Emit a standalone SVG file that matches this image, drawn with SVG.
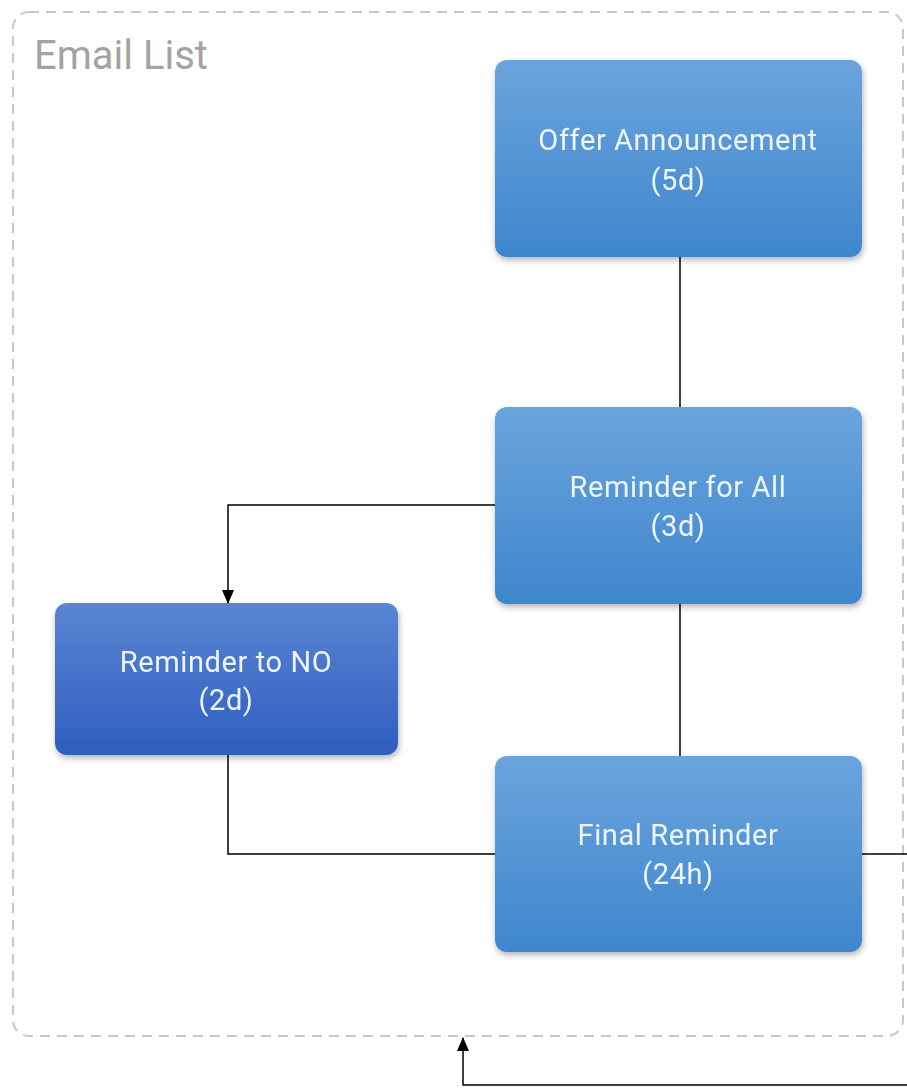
<svg xmlns="http://www.w3.org/2000/svg" width="907" height="1088" viewBox="0 0 907 1088">
<style>
.lbl{font-family:Roboto,"Liberation Sans",sans-serif;font-size:29px;letter-spacing:0.6px;fill:#eef5ff;text-anchor:middle}
.title{font-family:Roboto,"Liberation Sans",sans-serif;font-size:40px;fill:#a3a3a3}
.conn{fill:none;stroke:#000;stroke-width:1.5}
</style>
<defs>
<linearGradient id="gb" x1="0" y1="0" x2="0" y2="1"><stop offset="0" stop-color="#6ba4dd"/><stop offset="1" stop-color="#3f86cd"/></linearGradient>
<linearGradient id="gd" x1="0" y1="0" x2="0" y2="1"><stop offset="0" stop-color="#5a85d4"/><stop offset="1" stop-color="#2f5ebf"/></linearGradient>
<filter id="sh" x="-10%" y="-10%" width="120%" height="130%"><feDropShadow dx="1" dy="3" stdDeviation="3" flood-color="#000" flood-opacity="0.3"/></filter>
<marker id="ah" markerWidth="14" markerHeight="14" refX="13" refY="7" orient="auto" markerUnits="userSpaceOnUse"><path d="M0,1 L14,7 L0,13 z" fill="#000"/></marker>
</defs>
<g id="container">
<rect x="13" y="12" width="890" height="1024" rx="16" fill="none" stroke="#c8c8c8" stroke-width="2" stroke-dasharray="10,7"/>
<text class="title" x="34" y="69">Email List</text>
</g>
<g id="connectors">
<path class="conn" d="M680,257 V407"/>
<path class="conn" d="M680,604 V756"/>
<path class="conn" d="M495,505 H228 V603" marker-end="url(#ah)"/>
<path class="conn" d="M228,755 V854 H495"/>
<path class="conn" d="M862,854 H909 V1085 H463 V1038" marker-end="url(#ah)"/>
</g>
<g id="offer" filter="url(#sh)">
<rect x="495" y="60" width="367" height="197" rx="12" fill="url(#gb)"/>
<text class="lbl" x="678" y="150">Offer Announcement</text>
<text class="lbl" x="678" y="190">(5d)</text>
</g>
<g id="reminderAll" filter="url(#sh)">
<rect x="495" y="407" width="367" height="197" rx="12" fill="url(#gb)"/>
<text class="lbl" x="678" y="497">Reminder for All</text>
<text class="lbl" x="678" y="536">(3d)</text>
</g>
<g id="reminderNo" filter="url(#sh)">
<rect x="55" y="603" width="343" height="152" rx="12" fill="url(#gd)"/>
<text class="lbl" x="226" y="672">Reminder to NO</text>
<text class="lbl" x="226" y="710">(2d)</text>
</g>
<g id="final" filter="url(#sh)">
<rect x="495" y="756" width="367" height="196" rx="12" fill="url(#gb)"/>
<text class="lbl" x="678" y="845">Final Reminder</text>
<text class="lbl" x="678" y="884">(24h)</text>
</g>
</svg>
